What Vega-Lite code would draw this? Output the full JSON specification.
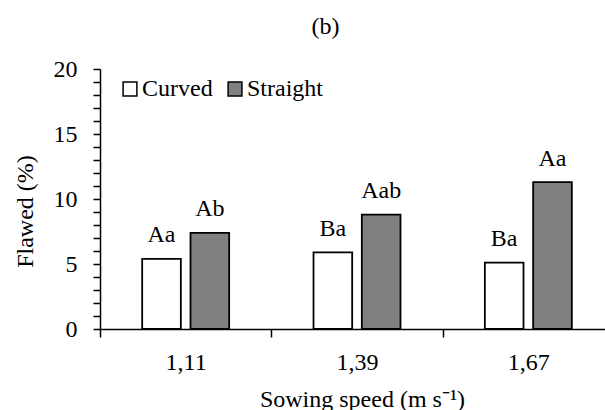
{
  "$schema": "https://vega.github.io/schema/vega-lite/v6.json",
  "width": 505,
  "height": 260,
  "autosize": {"type": "none"},
  "padding": {"left": 100, "top": 69, "right": 0, "bottom": 81},
  "background": "white",
  "title": {"text": "(b)", "fontSize": 24, "font": "Liberation Serif", "fontWeight": "normal", "color": "black", "anchor": "middle", "dx": -27, "dy": 37, "baseline": "alphabetic", "offset": 36},
  "data": {"values": [
    {"speed": "1,11", "type": "Curved", "flawed": 5.4, "label": "Aa"},
    {"speed": "1,11", "type": "Straight", "flawed": 7.4, "label": "Ab"},
    {"speed": "1,39", "type": "Curved", "flawed": 5.9, "label": "Ba"},
    {"speed": "1,39", "type": "Straight", "flawed": 8.8, "label": "Aab"},
    {"speed": "1,67", "type": "Curved", "flawed": 5.1, "label": "Ba"},
    {"speed": "1,67", "type": "Straight", "flawed": 11.3, "label": "Aa"}
  ]},
  "encoding": {
    "x": {
      "field": "speed", "type": "nominal", "sort": ["1,11", "1,39", "1,67"],
      "scale": {"range": [0, 514], "paddingInner": 0, "paddingOuter": 0},
      "axis": {
        "title": "Sowing speed (m s⁻¹)", "labelAngle": 0, "tickBand": "extent", "tickSize": 8,
        "tickColor": "black", "tickWidth": 1.5, "domainColor": "black", "domainWidth": 1.5,
        "labelPadding": 13, "labelFont": "Liberation Serif", "labelFontSize": 24, "labelColor": "black",
        "titleFont": "Liberation Serif", "titleFontSize": 24, "titleFontWeight": "normal", "titleColor": "black",
        "titleX": 262, "titleY": 77, "titleBaseline": "alphabetic", "titleAlign": "center", "grid": false
      }
    },
    "xOffset": {"field": "type", "sort": ["Curved", "Straight"], "scale": {"paddingInner": 0.2, "paddingOuter": 0.873}},
    "y": {
      "field": "flawed", "type": "quantitative",
      "scale": {"domain": [0, 20], "nice": false},
      "axis": {
        "title": "Flawed (%)",
        "values": [0,1,2,3,4,5,6,7,8,9,10,11,12,13,14,15,16,17,18,19,20],
        "labelExpr": "datum.value % 5 === 0 ? datum.label : ''",
        "labelOverlap": false, "grid": false,
        "tickSize": 7, "tickColor": "black", "tickWidth": 1.5, "domainColor": "black", "domainWidth": 1.5,
        "labelPadding": 16, "labelFont": "Liberation Serif", "labelFontSize": 24, "labelColor": "black",
        "titleFont": "Liberation Serif", "titleFontSize": 24, "titleFontWeight": "normal", "titleColor": "black",
        "titleX": -75, "titleY": 142, "titleAngle": -90, "titleAlign": "center", "titleBaseline": "middle"
      }
    }
  },
  "layer": [
    {
      "mark": {"type": "bar", "stroke": "black", "strokeWidth": 1.8},
      "encoding": {
        "fill": {
          "field": "type", "type": "nominal",
          "scale": {"domain": ["Curved", "Straight"], "range": ["#ffffff", "#808080"]},
          "legend": {
            "title": null, "orient": "none", "legendX": 18, "legendY": 8, "direction": "horizontal",
            "symbolType": "square", "symbolSize": 190, "symbolStrokeColor": "black", "symbolStrokeWidth": 1.5,
            "symbolOpacity": 1, "labelFont": "Liberation Serif", "labelFontSize": 24, "labelColor": "black",
            "labelOffset": 0, "columnPadding": 10, "padding": 0
          }
        }
      }
    },
    {
      "mark": {"type": "text", "baseline": "alphabetic", "dy": -16.5, "fontSize": 24, "font": "Liberation Serif", "color": "black"},
      "encoding": {"text": {"field": "label"}}
    }
  ],
  "config": {"view": {"stroke": null}}
}
